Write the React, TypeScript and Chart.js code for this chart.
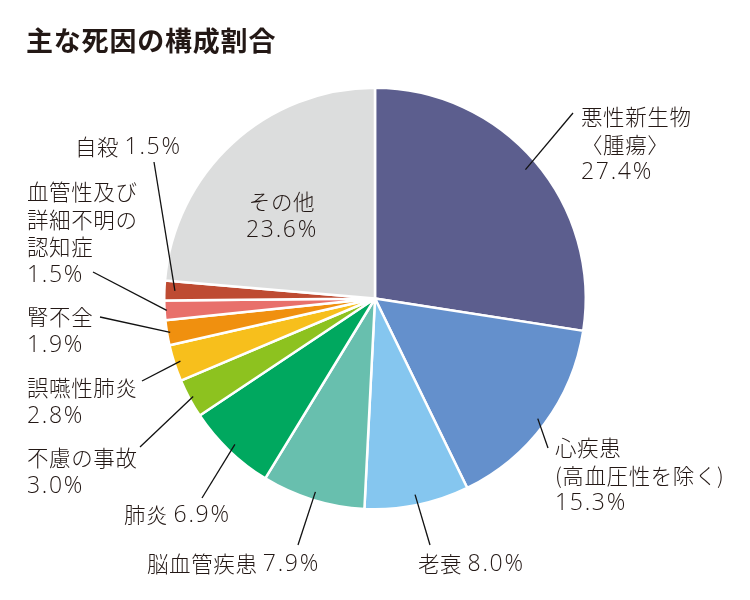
import React, { useEffect, useRef } from "react";
import { Chart, registerables } from "chart.js";

Chart.register(...registerables);

const titleText = "主な死因の構成割合";
const categories = [
  "悪性新生物〈腫瘍〉",
  "心疾患(高血圧性を除く)",
  "老衰",
  "脳血管疾患",
  "肺炎",
  "不慮の事故",
  "誤嚥性肺炎",
  "腎不全",
  "血管性及び詳細不明の認知症",
  "自殺",
  "その他",
];
const nameLines: string[][] = [
  ["悪性新生物", "〈腫瘍〉"],
  ["心疾患", "(高血圧性を除く)"],
  ["老衰"],
  ["脳血管疾患"],
  ["肺炎"],
  ["不慮の事故"],
  ["誤嚥性肺炎"],
  ["腎不全"],
  ["血管性及び", "詳細不明の", "認知症"],
  ["自殺"],
  ["その他"],
];
const values = [27.4, 15.3, 8.0, 7.9, 6.9, 3.0, 2.8, 1.9, 1.5, 1.5, 23.6];
const colors = [
  "#5c5e8e",
  "#6490cc",
  "#85c6ef",
  "#68bfae",
  "#00a85f",
  "#8dc21f",
  "#f7bf1c",
  "#f0900f",
  "#e8706b",
  "#be4b32",
  "#dcdddd",
];

type LabelLayout = {
  x: number;
  y: number;
  inline: boolean;
  center?: boolean;
  from?: [number, number];
  frac?: number;
};

const labelLayout: LabelLayout[] = [
  { x: 581, y: 117, inline: false, from: [573, 113], frac: 0.94 },
  { x: 555, y: 448, inline: false, from: [548, 448], frac: 0.96 },
  { x: 418, y: 564, inline: true, from: [430, 545], frac: 0.95 },
  { x: 147, y: 564, inline: true, from: [298, 545], frac: 0.96 },
  { x: 124, y: 515, inline: true, from: [202, 498], frac: 0.96 },
  { x: 27, y: 458, inline: false, from: [140, 447], frac: 0.98 },
  { x: 27, y: 388, inline: false, from: [142, 381], frac: 0.97 },
  { x: 27, y: 317, inline: false, from: [100, 317], frac: 0.985 },
  { x: 27, y: 192, inline: false, from: [93, 272], frac: 0.99 },
  { x: 75, y: 147, inline: true, from: [154, 162], frac: 0.95 },
  { x: 282, y: 202, inline: false, center: true },
];

const CJK_FONT = '300 21.5px "Noto Sans CJK JP", "Noto Sans", sans-serif';
const NUM_FONT = '300 23px "Open Sans", "Noto Sans", sans-serif';
const NUM_SPACING = "1.7px";
const TEXT_COLOR = "#231815";

function splitRuns(text: string) {
  const runs: { t: string; num: boolean }[] = [];
  const re = /[0-9.%]+/g;
  let last = 0;
  let m: RegExpExecArray | null;
  while ((m = re.exec(text))) {
    if (m.index > last) runs.push({ t: text.slice(last, m.index), num: false });
    runs.push({ t: m[0], num: true });
    last = m.index + m[0].length;
  }
  if (last < text.length) runs.push({ t: text.slice(last), num: false });
  return runs;
}

function setRunFont(ctx: any, num: boolean) {
  ctx.font = num ? NUM_FONT : CJK_FONT;
  ctx.letterSpacing = num ? NUM_SPACING : "0.6px";
}

function runWidth(ctx: any, r: { t: string; num: boolean }) {
  if (!r.num && r.t === " ") return 10;
  setRunFont(ctx, r.num);
  return ctx.measureText(r.t).width;
}

function drawMixed(ctx: any, text: string, x: number, y: number, center: boolean) {
  const runs = splitRuns(text);
  const widths = runs.map((r) => runWidth(ctx, r));
  const total = widths.reduce((a, b) => a + b, 0);
  let cx = center ? x - total / 2 : x;
  ctx.textAlign = "left";
  ctx.textBaseline = "middle";
  runs.forEach((r, i) => {
    if (!(r.t === " " && !r.num)) {
      setRunFont(ctx, r.num);
      ctx.fillText(r.t, cx, r.num ? y + 0.5 : y);
    }
    cx += widths[i];
  });
  ctx.letterSpacing = "0px";
}

const labelPlugin = {
  id: "customLabels",
  afterDraw(chart: any) {
    const ctx = chart.ctx as any;
    const meta = chart.getDatasetMeta(0);
    ctx.save();
    // title
    ctx.fillStyle = TEXT_COLOR;
    ctx.font = 'bold 27px "Noto Sans CJK JP", "Noto Sans", sans-serif';
    ctx.letterSpacing = "0.8px";
    ctx.textAlign = "left";
    ctx.textBaseline = "middle";
    ctx.fillText(titleText, 26, 41);
    ctx.letterSpacing = "0px";

    const lh = 27.5;
    values.forEach((v, i) => {
      const L = labelLayout[i];
      const pct = `${v.toFixed(1)}%`;
      const lines = L.inline
        ? [nameLines[i].join("") + " " + pct]
        : [...nameLines[i], pct];
      ctx.fillStyle = TEXT_COLOR;
      lines.forEach((t, k) => drawMixed(ctx, t, L.x, L.y + k * lh, !!L.center));
      if (L.from && L.frac) {
        const arc = meta.data[i] as any;
        const p = arc.getProps(["x", "y", "startAngle", "endAngle", "outerRadius"], true);
        const mid = (p.startAngle + p.endAngle) / 2;
        const r = p.outerRadius * L.frac;
        const ex = p.x + Math.cos(mid) * r;
        const ey = p.y + Math.sin(mid) * r;
        ctx.strokeStyle = "#111";
        ctx.lineWidth = 1.3;
        ctx.beginPath();
        ctx.moveTo(L.from[0], L.from[1]);
        ctx.lineTo(ex, ey);
        ctx.stroke();
      }
    });
    ctx.restore();
  },
};

export default function App() {
  const ref = useRef<HTMLCanvasElement | null>(null);
  useEffect(() => {
    if (!ref.current) return;
    const chart = new Chart(ref.current, {
      type: "pie",
      data: {
        labels: categories,
        datasets: [
          {
            data: values,
            backgroundColor: colors,
            borderColor: "#ffffff",
            borderWidth: 2.5,
          },
        ],
      },
      options: {
        responsive: false,
        animation: false,
        devicePixelRatio: 1,
        layout: { padding: { left: 163, right: 163, top: 86, bottom: 89 } },
        plugins: {
          legend: { display: false },
          tooltip: { enabled: false },
          title: { display: false },
        },
      },
      plugins: [labelPlugin],
    });
    return () => chart.destroy();
  }, []);
  return (
    <div style={{ position: "absolute", left: 0, top: 0, width: 750, height: 600, background: "#fff" }}>
      <canvas ref={ref} width={750} height={600} style={{ width: 750, height: 600 }} />
    </div>
  );
}
